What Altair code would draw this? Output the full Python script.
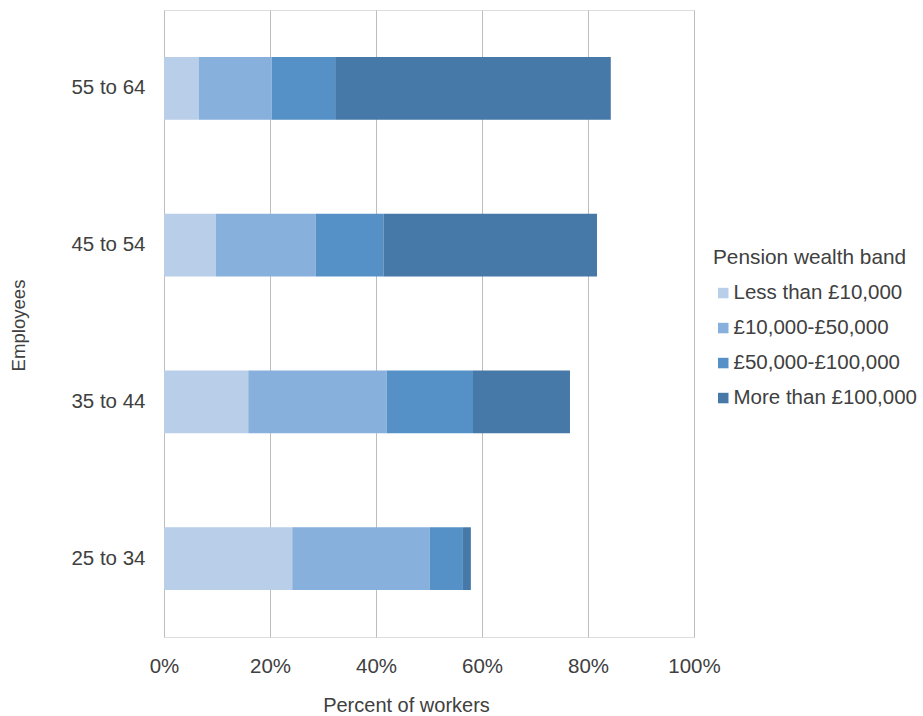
import altair as alt
import pandas as pd

age_groups = ["55 to 64", "45 to 54", "35 to 44", "25 to 34"]
bands = ["Less than £10,000", "£10,000-£50,000", "£50,000-£100,000", "More than £100,000"]
less_10k = [6.6, 9.8, 15.9, 24.2]
k10_50 = [13.7, 18.8, 26.1, 25.9]
k50_100 = [12.0, 12.8, 16.3, 6.3]
more_100k = [52.0, 40.3, 18.3, 1.5]
band_colors = ["#b9cee8", "#87b0dc", "#5591c7", "#4678a8"]
x_ticks = [0, 20, 40, 60, 80, 100]

rows = []
for series, name in zip([less_10k, k10_50, k50_100, more_100k], bands):
    for g, v in zip(age_groups, series):
        rows.append({"Age": g, "Band": name, "Value": v, "Order": bands.index(name)})
df = pd.DataFrame(rows)

FONT = "Liberation Sans"
TXT = "#404040"

chart = alt.Chart(df).mark_bar().encode(
    x=alt.X("Value:Q", stack="zero",
            scale=alt.Scale(domain=[0, 100], nice=False),
            axis=alt.Axis(values=x_ticks, labelExpr="datum.value + '%'",
                          title="Percent of workers", grid=True, gridColor="#bdbdbd",
                          gridWidth=1, domain=False, ticks=False, labelPadding=19,
                          labelFlush=False,
                          labelFontSize=20.5, labelColor=TXT, labelFont=FONT,
                          titleFont=FONT, titleFontSize=20, titleColor=TXT,
                          titleFontWeight="normal", titleX=242, titleY=74,
                          titleBaseline="alphabetic", titleAlign="center")),
    y=alt.Y("Age:N", sort=age_groups,
            scale=alt.Scale(paddingInner=0.6, paddingOuter=0.3),
            axis=alt.Axis(title="Employees", domain=False, ticks=False, grid=False,
                          labelPadding=19, labelFontSize=20.5, labelColor=TXT, labelFont=FONT,
                          titleFont=FONT, titleFontSize=18.6, titleColor=TXT,
                          titleFontWeight="normal", titleX=-140, titleY=315,
                          titleAngle=-90, titleBaseline="alphabetic", titleAlign="center")),
    color=alt.Color("Band:N", sort=bands,
                    scale=alt.Scale(domain=bands, range=band_colors),
                    legend=alt.Legend(title="Pension wealth band", orient="none",
                                      legendX=549, legendY=238, padding=0,
                                      symbolType="square", symbolSize=110,
                                      symbolStrokeWidth=0,
                                      titleFont=FONT, titleFontSize=20.8, titleColor=TXT,
                                      titleFontWeight="normal", titlePadding=14,
                                      titleLimit=0, labelLimit=0,
                                      labelFont=FONT, labelFontSize=20.5, labelColor=TXT,
                                      labelOffset=0, rowPadding=14)),
    order=alt.Order("Order:Q"),
).properties(
    width=530, height=627,
    padding={"left": 164, "top": 10, "right": 229, "bottom": 79},
    autosize="none",
).configure_view(strokeWidth=0).configure(background="white")

chart.save("out.html", embed_options={"renderer": "svg", "actions": False})
